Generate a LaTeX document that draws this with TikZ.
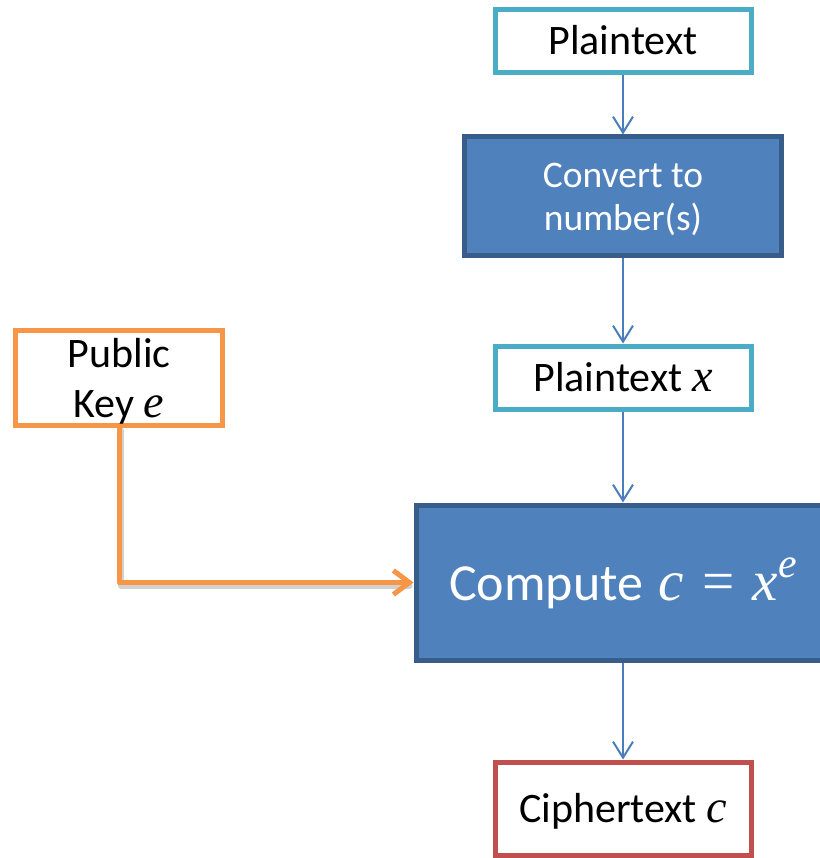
\documentclass[tikz,border=0pt]{standalone}
\usepackage{fontspec}
\setmainfont{Carlito}
\newfontfamily\varfont[Scale=1.1]{Liberation Serif}
\newcommand\mvar[1]{{\varfont\itshape #1}}
\usetikzlibrary{arrows.meta}

\definecolor{boxteal}{HTML}{4BACC6}
\definecolor{boxred}{HTML}{C0504D}
\definecolor{keyorange}{HTML}{F79646}
\definecolor{procfill}{HTML}{4F81BD}
\definecolor{procedge}{HTML}{385D8A}
\definecolor{flowblue}{HTML}{4A7EBB}

\begin{document}
\begin{tikzpicture}[x=1pt,y=-1pt,
  databox/.style={draw=#1, line width=5pt, fill=white, inner sep=0pt,
    minimum width=256pt, minimum height=63pt,
    font=\fontsize{42}{52}\selectfont, text height=27pt, text depth=0pt},
  procbox/.style={draw=procedge, fill=procfill, line width=5pt, text=white,
    inner sep=0pt, text depth=0pt},
  flow/.style={draw=flowblue, line width=2pt,
    -{Straight Barb[length=16pt,width=20pt]}},
  keyline/.style={draw=keyorange, line width=5pt, line cap=round, line join=round,
    -{Straight Barb[length=16pt,width=24pt]}},
  keyshadow/.style={draw=black, opacity=0.18, line width=6pt, line cap=round, line join=round}
]
\path[use as bounding box, fill=white] (0,0) rectangle (819,858);

% data and process boxes
\node[databox=boxteal] (pt) at (623,41.5) {Plaintext};
\node[procbox, align=center, minimum width=317pt, minimum height=119pt,
      font=\fontsize{37.5}{43}\selectfont] (conv) at (623,196.5) {Convert to\\number(s)};
\node[databox=boxteal] (ptx) at (623,377.5) {Plaintext \mvar{x}};
% the computation box runs on past the right edge of the page
\node[procbox, minimum width=480pt, minimum height=155pt,
      font=\fontsize{52}{60}\selectfont, text height=36pt] (comp) at (656,582.5)
      {Compute\hspace{0.3em}\mvar{c}\hspace{0.35em}{\varfont =}\hspace{0.35em}\mvar{x}\raisebox{0.45em}{\fontsize{38}{38}\selectfont\mvar{e}}\kern66pt};
\node[databox=boxred, minimum height=93pt] (ct) at (623,808.5) {Ciphertext \mvar{c}};
\node[draw=keyorange, line width=5pt, fill=white, inner sep=0pt,
      minimum width=207pt, minimum height=95pt, align=center, text depth=0pt,
      font=\fontsize{42}{50}\selectfont] (pk) at (119,377.5) {Public\\Key \mvar{e}};

% main flow
\draw[flow] (pt.south) -- (conv.north);
\draw[flow] (conv.south) -- (ptx.north);
\draw[flow] (ptx.south) -- (ptx.south |- comp.north);
\draw[flow] (ct.north |- comp.south) -- (ct.north);

% key feeds the computation
\coordinate (bend) at (pk.south |- comp.west);
\draw[keyshadow] ([shift={(2,3)}]pk.south) -- ([shift={(2,3)}]bend) -- ([shift={(-4,3)}]comp.west);
\draw[keyline] (pk.south) -- (bend) -- (comp.west);
\end{tikzpicture}
\end{document}
